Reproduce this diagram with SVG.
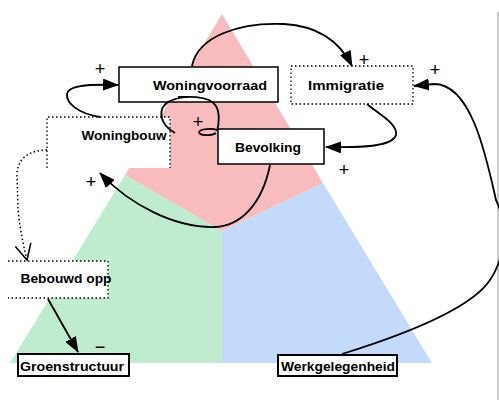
<svg xmlns="http://www.w3.org/2000/svg" width="499" height="407" viewBox="0 0 499 407">
  <style>
    .lbl { font-family: "Liberation Sans", Arial, sans-serif; font-size: 12px; font-weight: bold; fill: #000; text-anchor: middle; }
    .sign { font-family: "Liberation Sans", Arial, sans-serif; font-size: 18px; fill: #000; text-anchor: middle; }
    .solid { fill: #fff; stroke: #000; stroke-width: 1.5; }
    .thick { fill: #fff; stroke: #000; stroke-width: 2; }
    .dotted { fill: none; stroke: #000; stroke-width: 1.3; stroke-dasharray: 1.5 2.5; }
    .link { fill: none; stroke: #000; stroke-width: 1.8; }
    .dlink { fill: none; stroke: #000; stroke-width: 1.5; stroke-dasharray: 1.5 2.5; }
  </style>
  <defs>
    <marker id="arrow" viewBox="0 0 16 12" refX="15" refY="6" markerWidth="16" markerHeight="12" markerUnits="userSpaceOnUse" orient="auto">
      <path d="M0,0 L16,6 L0,12 Z" fill="#000"/>
    </marker>
    <marker id="openArrow" viewBox="0 0 18 18" refX="16" refY="9" markerWidth="18" markerHeight="18" markerUnits="userSpaceOnUse" orient="auto">
      <path d="M0,1 L16,9 L0,17" fill="none" stroke="#000" stroke-width="1.5"/>
    </marker>
  </defs>

  <!-- white page -->
  <rect x="0" y="0" width="499" height="407" fill="#fff"/>
  <line x1="498" y1="12" x2="498" y2="400" stroke="#9a9a9a" stroke-width="1"/>

  <!-- three sectors of the triangle -->
  <g id="sectors">
    <polygon points="125,175 10,363 222,363 222,231" fill="#bfebcf"/>
    <polygon points="222,231 323,183 432,363 222,363" fill="#c3dafa"/>
    <polygon points="222,14 125,175 222,231 323,183" fill="#f8bcbe"/>
  </g>

  <g id="woningvoorraad">
    <rect class="solid" x="119" y="67" width="159" height="35"/>
    <text class="lbl" x="210" y="90" textLength="114" lengthAdjust="spacingAndGlyphs">Woningvoorraad</text>
  </g>

  <g id="immigratie">
    <rect x="291" y="66" width="122" height="38" fill="#fff"/>
    <rect class="dotted" x="291" y="66" width="122" height="38"/>
    <text class="lbl" x="346" y="90" textLength="76" lengthAdjust="spacingAndGlyphs">Immigratie</text>
  </g>

  <g id="woningbouw">
    <rect x="47" y="117" width="123" height="51" fill="#fff"/>
    <path class="dotted" d="M47,168 V117 H170 V168"/>
    <text class="lbl" x="124" y="140" textLength="85" lengthAdjust="spacingAndGlyphs">Woningbouw</text>
  </g>

  <g id="bevolking">
    <rect class="solid" x="218" y="129" width="106" height="35"/>
    <text class="lbl" x="268" y="152" textLength="66" lengthAdjust="spacingAndGlyphs">Bevolking</text>
  </g>

  <g id="bebouwd-opp">
    <rect x="8" y="261" width="100" height="37" fill="#fff"/>
    <path class="dotted" d="M8,261 H108 V298 H8"/>
    <text class="lbl" x="66" y="283" textLength="91" lengthAdjust="spacingAndGlyphs">Bebouwd opp</text>
  </g>

  <g id="groenstructuur">
    <rect class="thick" x="18" y="354" width="111" height="22"/>
    <text class="lbl" x="72" y="371" textLength="104" lengthAdjust="spacingAndGlyphs">Groenstructuur</text>
  </g>

  <g id="werkgelegenheid">
    <rect class="thick" x="278" y="355" width="119" height="21"/>
    <text class="lbl" x="338" y="371" textLength="114" lengthAdjust="spacingAndGlyphs">Werkgelegenheid</text>
  </g>

  <!-- connectors -->
  <g id="connectors">
    <!-- Woningvoorraad to Immigratie -->
    <path class="link" d="M192,66 C198,36 240,22 284,24 C318,26 340,42 352,66" marker-end="url(#arrow)"/>
    <!-- Immigratie to Bevolking -->
    <path class="link" d="M367,104 C380,115 398,124 396,135 C393,146 365,148 326,147" marker-end="url(#arrow)"/>
    <!-- Werkgelegenheid to Immigratie -->
    <path class="link" d="M342,354 C400,336 470,310 490,280 C505,258 508,225 496,200 C485,150 470,84 434,84 L414,86" marker-end="url(#arrow)"/>
    <!-- Bevolking to Woningbouw -->
    <path class="link" d="M270,165 C262,205 240,226 215,227 C175,228 130,205 100,173" marker-end="url(#arrow)"/>
    <!-- Woningbouw to Woningvoorraad -->
    <path class="link" d="M100,117 C80,114 66,104 67,94 C68,86 85,84 118,85" marker-end="url(#arrow)"/>
    <!-- small loop between Woningbouw and Bevolking -->
    <path class="link" d="M175,133 C160,125 156,108 170,101 C185,94 210,96 216,106 C220,113 219,124 217,131"/>
    <path class="link" d="M217,130 C212,128 200,129 199,132 C199,136 212,136 216,133"/>
    <line x1="178" y1="97" x2="188" y2="97" stroke="#000" stroke-width="2"/>
    <!-- Woningbouw to Bebouwd opp -->
    <path class="dlink" d="M47,150 C30,150 17,158 17,175 L18,210 C20,230 24,248 27,260" marker-end="url(#openArrow)"/>
    <!-- Bebouwd opp to Groenstructuur -->
    <path class="link" d="M48,299 L78,352" marker-end="url(#arrow)"/>
  </g>

  <!-- polarity signs -->
  <g id="signs">
    <text class="sign" x="364" y="66">+</text>
    <text class="sign" x="435" y="76">+</text>
    <text class="sign" x="344" y="176">+</text>
    <text class="sign" x="100" y="75">+</text>
    <text class="sign" x="198" y="128">+</text>
    <text class="sign" x="91" y="188">+</text>
    <text class="sign" x="100" y="353">−</text>
  </g>
</svg>
